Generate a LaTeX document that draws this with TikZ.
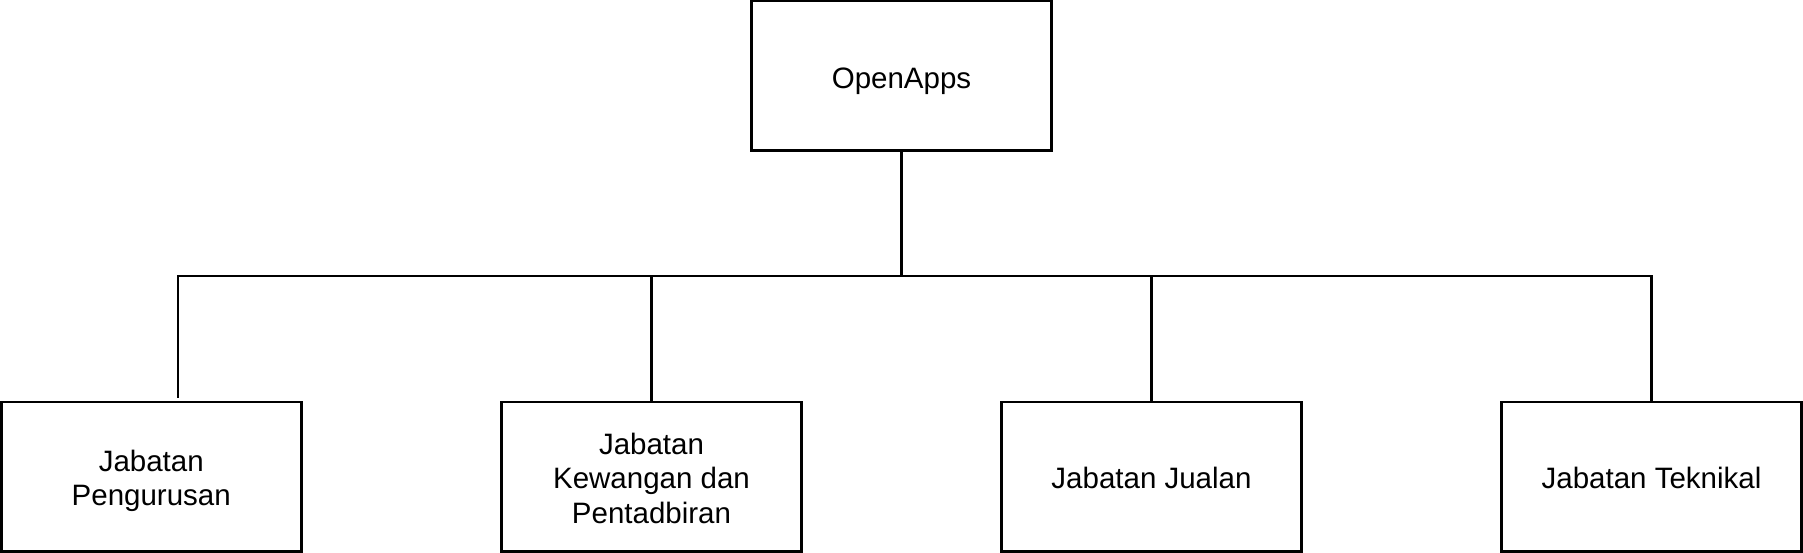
\documentclass[tikz,border=0pt]{standalone}
\usepackage{fontspec}
\setmainfont{Liberation Sans}
\newcommand\topstrut{\rule{0pt}{30.7pt}}
\newcommand\botstrut{\rule[-6.25pt]{0pt}{6.25pt}}
\begin{document}
\begin{tikzpicture}[x=1pt,y=-1pt,
  box/.style={draw=black,line width=2.5pt,fill=white,minimum width=300pt,minimum height=149.5pt,
    inner sep=0pt,align=center,font=\fontsize{29.5}{34.5}\selectfont},
  link/.style={draw=black,line width=2.5pt}]
\useasboundingbox (0,0) rectangle (1803,553);
\node[box] (top) at (901.5,76) {\topstrut OpenApps\botstrut};
\node[box] (b1) at (151.25,476.5) {\topstrut Jabatan\\Pengurusan\botstrut};
\node[box] (b2) at (651.5,476.5) {\topstrut Jabatan\\Kewangan dan\\Pentadbiran\botstrut};
\node[box] (b3) at (1151.5,476.5) {\topstrut Jabatan Jualan\botstrut};
\node[box] (b4) at (1651.5,476.5) {\topstrut Jabatan Teknikal\botstrut};
\coordinate (bus) at (0,276);
\coordinate (b1in) at (178,398);
\path[link] (top.south) -- (top.south |- bus) -| (b1in);
\path[link] (top.south) -- (top.south |- bus) -| (b2.north);
\path[link] (top.south) -- (top.south |- bus) -| (b3.north);
\path[link] (top.south) -- (top.south |- bus) -| (b4.north);
\end{tikzpicture}
\end{document}
